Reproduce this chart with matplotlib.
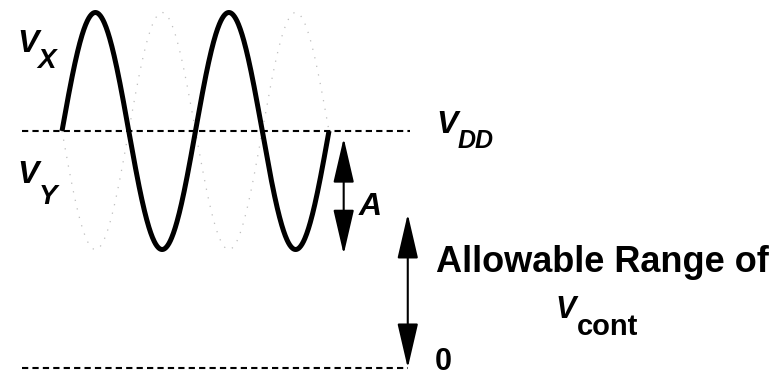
import numpy as np
import matplotlib.pyplot as plt
from matplotlib.patches import FancyArrowPatch

# Diagram values (time in oscillation periods, voltage normalised to VDD)
VDD = 1.0
AMP = 0.5            # swing A around VDD
N_PERIODS = 2.0
RANGE_TOP = 0.65     # top of the "allowable range" arrow
A_ARROW = (0.97, 0.48)
LINE_START, LINE_END = -0.30, 2.61
ZERO_END = 2.59
A_ARROW_X = 2.11
RANGE_ARROW_X = 2.59

# figure is laid out so that one period ~ 133.5 px and VDD ~ 237 px
W, H = 776, 376
SX, SY = 133.5, 237.0
X0_PX, Y0_PX = 62.0, 368.0


def at(px, py):
    # pixel position in the figure -> data coordinates
    return (px - X0_PX) / SX, (Y0_PX - py) / SY


fig = plt.figure(figsize=(W / 100, H / 100), dpi=100)
ax = fig.add_axes([0, 0, 1, 1])
ax.set_xlim(at(0, 0)[0], at(W, 0)[0])
ax.set_ylim(at(0, H)[1], at(0, 0)[1])
ax.axis('off')

t = np.linspace(0, N_PERIODS, 600)
vx = VDD + AMP * np.sin(2 * np.pi * t)
vy = VDD - AMP * np.sin(2 * np.pi * t)

# faint complementary output, drawn as sparse grey dots
ax.plot(t, vy, color='#bdbdbd', lw=0.9, linestyle=(0, (1, 6)))
ax.plot(t, vx, color='black', lw=3.6, solid_capstyle='butt')

ax.plot([LINE_START, LINE_END], [VDD, VDD], color='black', lw=1.5,
        linestyle=(0, (3, 2)))
ax.plot([LINE_START, ZERO_END], [0, 0], color='black', lw=1.5,
        linestyle=(0, (3, 2)))

style = '<|-|>,head_length=28,head_width=6.5'
for x, (y1, y2) in [(A_ARROW_X, A_ARROW), (RANGE_ARROW_X, (RANGE_TOP, 0.0))]:
    ax.add_patch(FancyArrowPatch((x, y1), (x, y2), arrowstyle=style,
                                 mutation_scale=1, lw=1.5, color='black',
                                 shrinkA=0, shrinkB=0))

FONT = 'Liberation Sans'


def label(main, sub, pmain, psub, size, subsize, sub_italic=True):
    ax.text(*at(*pmain), main, fontsize=size, fontweight='bold',
            fontstyle='italic', family=FONT, va='baseline', ha='left')
    if sub:
        ax.text(*at(*psub), sub, fontsize=subsize, fontweight='bold',
                fontstyle='italic' if sub_italic else 'normal',
                family=FONT, va='baseline', ha='left')


label('V', 'X', (17, 52), (37, 68), 23, 20)
label('V', 'Y', (17, 183), (39, 204), 23, 20)
label('V', 'DD', (436, 133), (458, 148), 23, 18)
label('A', None, (359, 215), None, 23, None)
label('V', 'cont', (555, 318), (577, 335), 22, 21, sub_italic=False)

ax.text(*at(436, 272), 'Allowable Range of', fontsize=26, fontweight='bold',
        family=FONT, va='baseline', ha='left')
ax.text(*at(435, 370), '0', fontsize=22, fontweight='bold',
        family=FONT, va='baseline', ha='left')

fig.savefig('out.png', dpi=100)
